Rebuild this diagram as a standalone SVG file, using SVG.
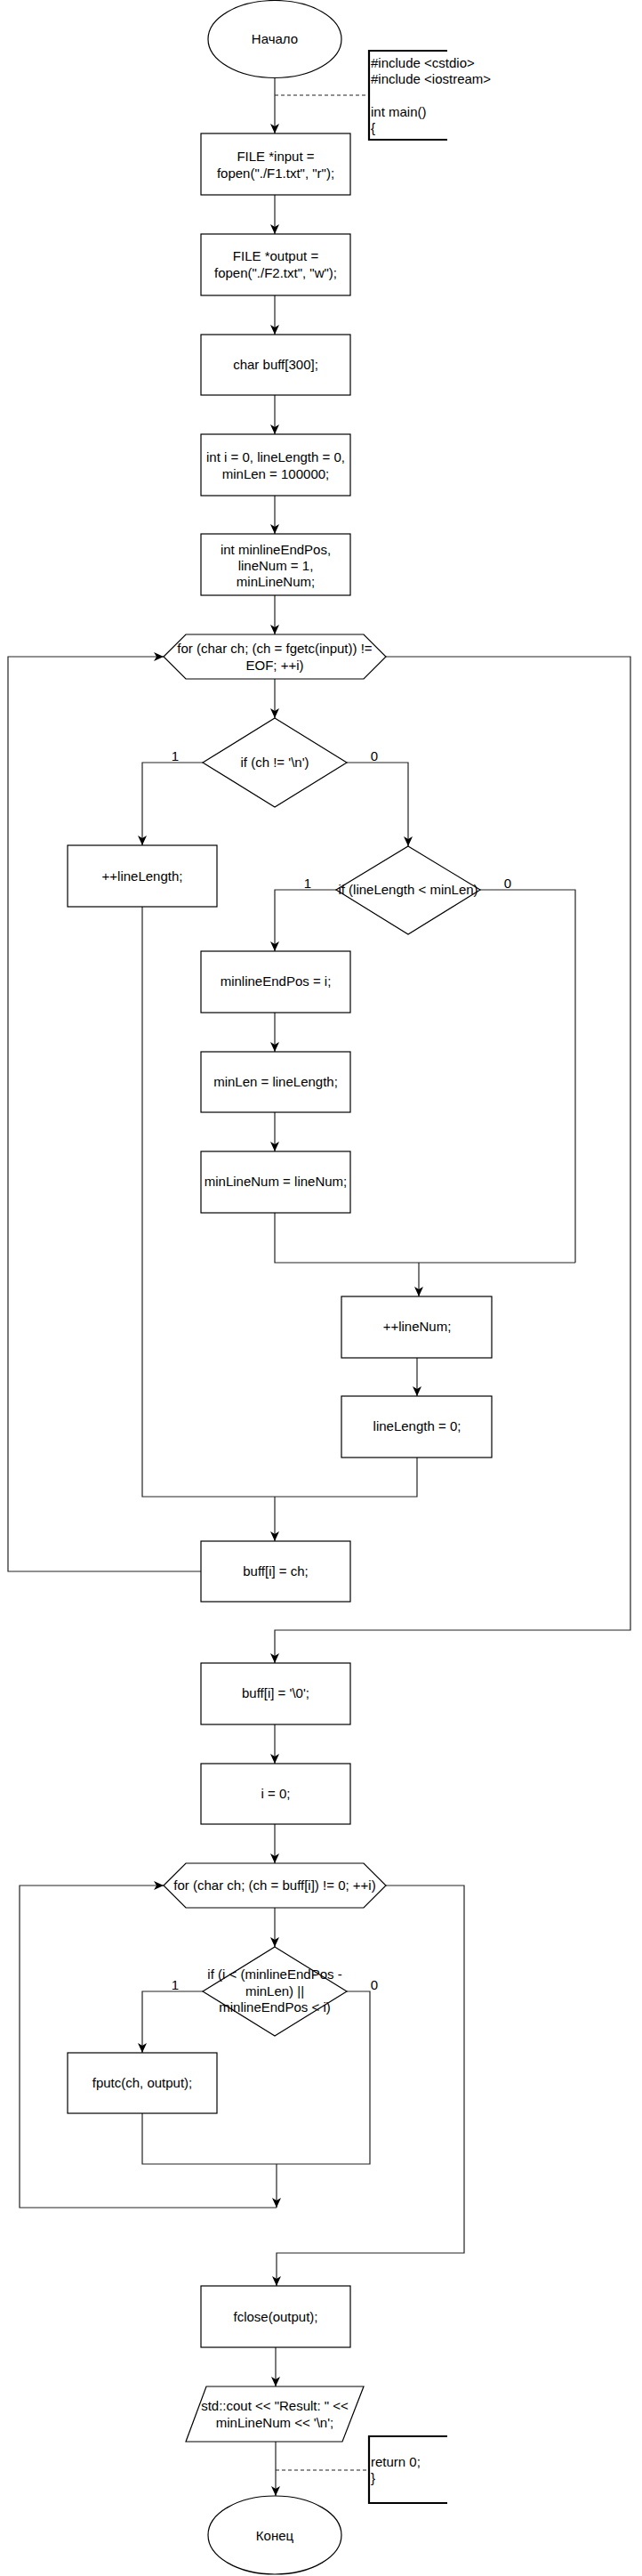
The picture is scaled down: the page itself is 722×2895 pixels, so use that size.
<svg xmlns="http://www.w3.org/2000/svg" width="722" height="2895" viewBox="0 0 722 2895">
<style>
.s{fill:#fff;stroke:#000;stroke-width:1.2}
.t{font-family:"Liberation Sans",Arial,sans-serif;font-size:15px;fill:#000;text-anchor:middle}
.tl{font-family:"Liberation Sans",Arial,sans-serif;font-size:15px;fill:#000;text-anchor:start}
.c{fill:none;stroke:#222;stroke-width:1.2}
.ca{fill:none;stroke:#222;stroke-width:1.2;marker-end:url(#ah)}
.d{fill:none;stroke:#222;stroke-width:1.2;stroke-dasharray:4 3}
.n{fill:none;stroke:#000;stroke-width:2.2}
</style>
<defs>
<marker id="ah" markerUnits="userSpaceOnUse" markerWidth="12" markerHeight="10" refX="11" refY="5" orient="auto">
<path d="M0,0 L11,5 L0,10 L3,5 Z" fill="#000"/>
</marker>
</defs>
<rect width="722" height="2895" fill="#fff"/>
<g id="connectors">
<path class="ca" d="M309,88 V150"/>
<path class="d" d="M309,107 H415"/>
<path class="ca" d="M309,219 V263"/>
<path class="ca" d="M309,332 V376"/>
<path class="ca" d="M309,444 V488"/>
<path class="ca" d="M309,557 V600"/>
<path class="ca" d="M309,669 V713"/>
<path class="ca" d="M309,763 V807"/>
<path class="ca" d="M228,857 H160 V950"/>
<path class="ca" d="M390,857 H459 V951"/>
<path class="ca" d="M378,1000 H309 V1069"/>
<path class="c" d="M540,1000 H647 V1419"/>
<path class="ca" d="M309,1138 V1182"/>
<path class="ca" d="M309,1250 V1294"/>
<path class="c" d="M309,1363 V1419 H647"/>
<path class="ca" d="M471,1419 V1457"/>
<path class="ca" d="M469,1526 V1569"/>
<path class="c" d="M469,1638 V1682 H160 V1019"/>
<path class="ca" d="M309,1682 V1732"/>
<path class="ca" d="M226,1766 H9 V738 H184"/>
<path class="ca" d="M434,738 H709 V1832 H309 V1869"/>
<path class="ca" d="M309,1938 V1982"/>
<path class="ca" d="M309,2050 V2094"/>
<path class="ca" d="M309,2144 V2188"/>
<path class="ca" d="M228,2238 H160 V2307"/>
<path class="c" d="M390,2238 H416 V2432 H160 V2375"/>
<path class="ca" d="M311,2432 V2481"/>
<path class="ca" d="M311,2481 H22 V2119 H184"/>
<path class="ca" d="M434,2119 H522 V2532 H311 V2569"/>
<path class="ca" d="M310,2638 V2682"/>
<path class="ca" d="M310,2744 V2805"/>
<path class="d" d="M310,2776 H415"/>
<text class="t" x="197" y="855">1</text>
<text class="t" x="421" y="855">0</text>
<text class="t" x="346" y="998">1</text>
<text class="t" x="571" y="998">0</text>
<text class="t" x="197" y="2236">1</text>
<text class="t" x="421" y="2236">0</text>
</g>
<g id="start">
<ellipse class="s" cx="309" cy="44" rx="75" ry="43.5"/>
<text class="t" x="309" y="49">Начало</text>
</g>
<g id="note1">
<path class="n" d="M503,57 H415 V157 H503"/>
<text class="tl" x="417" y="76">#include &lt;cstdio&gt;</text>
<text class="tl" x="417" y="94">#include &lt;iostream&gt;</text>
<text class="tl" x="417" y="131">int main()</text>
<text class="tl" x="417" y="149">{</text>
</g>
<g id="r1">
<rect class="s" x="226" y="150" width="168" height="69"/>
<text class="t" x="310" y="181">FILE *input =</text>
<text class="t" x="310" y="200">fopen("./F1.txt", "r");</text>
</g>
<g id="r2">
<rect class="s" x="226" y="263" width="168" height="69"/>
<text class="t" x="310" y="293">FILE *output =</text>
<text class="t" x="310" y="312">fopen("./F2.txt", "w");</text>
</g>
<g id="r3">
<rect class="s" x="226" y="376" width="168" height="68"/>
<text class="t" x="310" y="415">char buff[300];</text>
</g>
<g id="r4">
<rect class="s" x="226" y="488" width="168" height="69"/>
<text class="t" x="310" y="519">int i = 0, lineLength = 0,</text>
<text class="t" x="310" y="538">minLen = 100000;</text>
</g>
<g id="r5">
<rect class="s" x="226" y="600" width="168" height="69"/>
<text class="t" x="310" y="623">int minlineEndPos,</text>
<text class="t" x="310" y="641">lineNum = 1,</text>
<text class="t" x="310" y="659">minLineNum;</text>
</g>
<g id="loop1">
<polygon class="s" points="184,738 209,713 409,713 434,738 409,763 209,763"/>
<text class="t" x="309" y="734">for (char ch; (ch = fgetc(input)) !=</text>
<text class="t" x="309" y="753">EOF; ++i)</text>
</g>
<g id="if1">
<polygon class="s" points="309,807 390,857 309,907 228,857"/>
<text class="t" x="309" y="862">if (ch != '\n')</text>
</g>
<g id="incLen">
<rect class="s" x="76" y="950" width="168" height="69"/>
<text class="t" x="160" y="990">++lineLength;</text>
</g>
<g id="if2">
<polygon class="s" points="459,951 540,1000 459,1050 378,1000"/>
<text class="t" x="459" y="1005">if (lineLength &lt; minLen)</text>
</g>
<g id="setPos">
<rect class="s" x="226" y="1069" width="168" height="69"/>
<text class="t" x="310" y="1108">minlineEndPos = i;</text>
</g>
<g id="setLen">
<rect class="s" x="226" y="1182" width="168" height="68"/>
<text class="t" x="310" y="1221">minLen = lineLength;</text>
</g>
<g id="setNum">
<rect class="s" x="226" y="1294" width="168" height="69"/>
<text class="t" x="310" y="1333">minLineNum = lineNum;</text>
</g>
<g id="incNum">
<rect class="s" x="384" y="1457" width="169" height="69"/>
<text class="t" x="469" y="1496">++lineNum;</text>
</g>
<g id="resetLen">
<rect class="s" x="384" y="1569" width="169" height="69"/>
<text class="t" x="469" y="1608">lineLength = 0;</text>
</g>
<g id="store">
<rect class="s" x="226" y="1732" width="168" height="68"/>
<text class="t" x="310" y="1771">buff[i] = ch;</text>
</g>
<g id="term">
<rect class="s" x="226" y="1869" width="168" height="69"/>
<text class="t" x="310" y="1908">buff[i] = '\0';</text>
</g>
<g id="resetI">
<rect class="s" x="226" y="1982" width="168" height="68"/>
<text class="t" x="310" y="2021">i = 0;</text>
</g>
<g id="loop2">
<polygon class="s" points="184,2119 209,2094 409,2094 434,2119 409,2144 209,2144"/>
<text class="t" x="309" y="2124">for (char ch; (ch = buff[i]) != 0; ++i)</text>
</g>
<g id="if3">
<polygon class="s" points="309,2188 390,2238 309,2288 228,2238"/>
<text class="t" x="309" y="2224">if (i &lt; (minlineEndPos -</text>
<text class="t" x="309" y="2243">minLen) ||</text>
<text class="t" x="309" y="2261">minlineEndPos &lt; i)</text>
</g>
<g id="fputc">
<rect class="s" x="76" y="2307" width="168" height="68"/>
<text class="t" x="160" y="2346">fputc(ch, output);</text>
</g>
<g id="fclose">
<rect class="s" x="226" y="2569" width="168" height="69"/>
<text class="t" x="310" y="2609">fclose(output);</text>
</g>
<g id="print">
<polygon class="s" points="232,2682 409,2682 385,2744 209,2744"/>
<text class="t" x="309" y="2709">std::cout &lt;&lt; "Result: " &lt;&lt;</text>
<text class="t" x="309" y="2728">minLineNum &lt;&lt; '\n';</text>
</g>
<g id="note2">
<path class="n" d="M503,2738 H415 V2813 H503"/>
<text class="tl" x="417" y="2772">return 0;</text>
<text class="tl" x="417" y="2790">}</text>
</g>
<g id="end">
<ellipse class="s" cx="309" cy="2849" rx="75" ry="44"/>
<text class="t" x="309" y="2855">Конец</text>
</g>
</svg>
